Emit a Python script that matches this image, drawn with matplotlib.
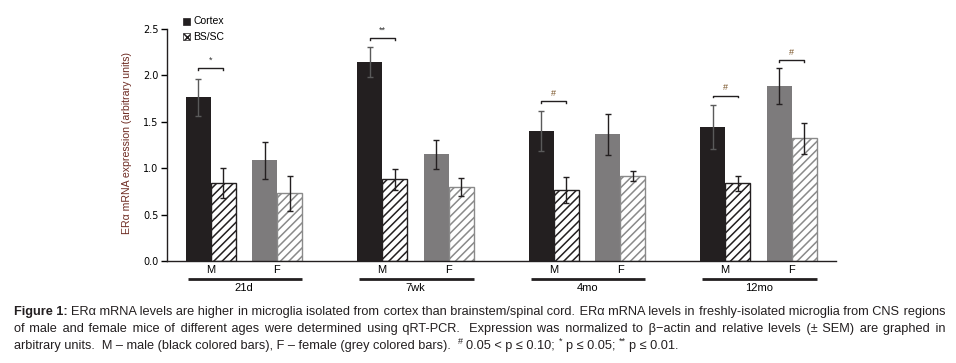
import numpy as np
import matplotlib
matplotlib.use('Agg')
import matplotlib.pyplot as plt
from matplotlib.patches import Rectangle
from matplotlib.transforms import blended_transform_factory
from matplotlib import font_manager
from matplotlib.ft2font import FT2Font

# data
groups = ['21d', '7wk', '4mo', '12mo']
sexes = ['M', 'F']
cortex_m = [1.76, 2.14, 1.40, 1.44]
cortex_m_err = [0.20, 0.165, 0.215, 0.24]
bssc_m = [0.84, 0.88, 0.76, 0.835]
bssc_m_err = [0.165, 0.115, 0.14, 0.08]
cortex_f = [1.085, 1.15, 1.365, 1.885]
cortex_f_err = [0.20, 0.155, 0.22, 0.19]
bssc_f = [0.73, 0.80, 0.91, 1.32]
bssc_f_err = [0.19, 0.097, 0.054, 0.17]

# significance marks: (group index, sex, bracket height, label)
sig_marks = [(0, 'M', 2.08, '*'), (1, 'M', 2.395, '**'), (2, 'M', 1.72, '#'),
             (3, 'M', 1.78, '#'), (3, 'F', 2.16, '#')]

cap_bold = "Figure 1:"
cap_line1 = ("ERα mRNA levels are higher in microglia isolated from cortex than brainstem/spinal cord. "
             "ERα mRNA levels in freshly-isolated microglia from CNS regions")
cap_line2 = ("of male and female mice of different ages were determined using qRT-PCR.  Expression was "
             "normalized to β−actin and relative levels (± SEM) are graphed in")
# (text, superscript?)
cap_line3 = [("arbitrary units.  M – male (black colored bars), F – female (grey colored bars).  ", False),
             ("#", True), (" 0.05 < p ≤ 0.10; ", False), ("*", True), (" p ≤ 0.05; ", False),
             ("**", True), (" p ≤ 0.01.", False)]

W, H = 956, 363
fig = plt.figure(figsize=(W / 100, H / 100), dpi=100)
fx = lambda px: px / W
fy = lambda py: 1 - py / H

ax = fig.add_axes([fx(167), fy(261), (836 - 167) / W, (261 - 28.7) / H])

DARK = '#231f20'
GREY = '#7d7b7c'
plt.rcParams['hatch.linewidth'] = 1.1

gap = 6.86
base = np.arange(len(groups)) * gap
pos_cm, pos_bm, pos_cf, pos_bf = base, base + 1, base + 2.66, base + 3.66

ax.bar(pos_cm, cortex_m, width=1.0, color=DARK, zorder=2)
ax.bar(pos_bm, bssc_m, width=1.0, color='white', edgecolor=DARK, hatch='////', linewidth=1.0, zorder=2)
ax.bar(pos_cf, cortex_f, width=1.0, color=GREY, zorder=2)
ax.bar(pos_bf, bssc_f, width=1.0, color='white', edgecolor='#8a8a8a', hatch='////', linewidth=1.0, zorder=2)

ekw = dict(fmt='none', capsize=2.5, elinewidth=1.0, capthick=1.0, zorder=3)
ax.errorbar(pos_cm, cortex_m, yerr=cortex_m_err, ecolor='#5a5a5a', **ekw)
ax.errorbar(pos_bm, bssc_m, yerr=bssc_m_err, ecolor=DARK, **ekw)
ax.errorbar(pos_cf, cortex_f, yerr=cortex_f_err, ecolor=DARK, **ekw)
ax.errorbar(pos_bf, bssc_f, yerr=bssc_f_err, ecolor=DARK, **ekw)

# significance brackets
for g, s, h, lab in sig_marks:
    x0 = base[g] + (0 if s == 'M' else 2.66)
    x1 = x0 + 1
    ax.plot([x0, x0, x1, x1], [h - 0.02, h, h, h - 0.02], color=DARK, lw=1.0, zorder=3)
    col = '#7a5428' if lab == '#' else '#333333'
    ax.text((x0 + x1) / 2, h + 0.035, lab, ha='center', va='bottom', fontsize=6.5, color=col,
            family='Liberation Sans')

ax.set_xlim(-1.24, 25.52)
ax.set_ylim(0, 2.5)
ax.set_yticks(np.arange(0, 2.51, 0.5))
ax.set_yticklabels([f'{v:.1f}' for v in np.arange(0, 2.51, 0.5)], family='DejaVu Sans', fontsize=7)
ax.tick_params(axis='y', length=4, width=1, pad=2, direction='out')
ax.tick_params(axis='x', length=0)
for sp in ['top', 'right']:
    ax.spines[sp].set_visible(False)
for sp in ['left', 'bottom']:
    ax.spines[sp].set_linewidth(1.0)
    ax.spines[sp].set_color(DARK)

# M / F labels, group underline and group names
ax.set_xticks(np.concatenate([base + 0.5, base + 3.16]))
ax.set_xticklabels(['M'] * len(groups) + ['F'] * len(groups), family='Liberation Sans', fontsize=8)
ax.tick_params(axis='x', pad=3)
tr = blended_transform_factory(ax.transData, ax.transAxes)
for i, g in enumerate(groups):
    ax.plot([base[i] - 0.42, base[i] + 4.16], [-0.077, -0.077], transform=tr, color=DARK, lw=2.0,
            clip_on=False, solid_capstyle='butt')
    ax.text(base[i] + 1.85, -0.117, g, transform=tr, ha='center', va='center', fontsize=8,
            family='Liberation Sans')

ax.set_ylabel('ERα mRNA expression (arbitrary units)', fontsize=7.6, color='#6e2b22', family='Liberation Sans')
ax.yaxis.set_label_coords((132 - 167) / (836 - 167), 0.51)

# legend drawn by hand
fig.patches.append(Rectangle((fx(183), fy(24.5)), 7 / W, 7 / H, transform=fig.transFigure,
                             facecolor=DARK, edgecolor=DARK, lw=0.5))
fig.patches.append(Rectangle((fx(183), fy(39.5)), 7 / W, 7 / H, transform=fig.transFigure,
                             facecolor='white', edgecolor=DARK, hatch='xxxx', lw=0.5))
fig.text(fx(193), fy(21.5), 'Cortex', fontsize=7.5, va='center', family='Liberation Sans')
fig.text(fx(193), fy(37), 'BS/SC', fontsize=7.5, va='center', family='Liberation Sans')

# caption: whole lines, justified by padding the word gaps with narrow spaces
renderer = fig.canvas.get_renderer()
CAP_FS = 9.2
ck = dict(family='Liberation Sans', fontsize=CAP_FS, color='#231f20', va='baseline', ha='left')

ft = FT2Font(font_manager.findfont(font_manager.FontProperties(family='Liberation Sans')))
pad_char = ' '
for cp in (0x200A, 0x2009):
    if ft.get_char_index(cp):
        pad_char = chr(cp)
        break


def measure(s, **kw):
    t = fig.text(0, 0, s, **{**ck, **kw})
    w = t.get_window_extent(renderer).width
    t.remove()
    return w


space_w = measure('a a') - measure('aa')
pad_w = (measure('a' + pad_char * 10 + 'a') - measure('aa')) / 10


def justify(s, target):
    gaps = [k for k, c in enumerate(s) if c == ' ' and (k == 0 or s[k - 1] != ' ')]
    n = max(int(round((target - measure(s)) / pad_w)), 0)
    out, last = [], 0
    for j, k in enumerate(gaps):
        cnt = (n * (j + 1)) // len(gaps) - (n * j) // len(gaps)
        out.append(s[last:k + 1] + pad_char * cnt)
        last = k + 1
    out.append(s[last:])
    return ''.join(out)


L, R = 14, 946
baselines = [315.5, 332, 348.5]

fig.text(fx(L), fy(baselines[0]), cap_bold, fontweight='bold', **ck)
x_start = L + measure(cap_bold + ' E', fontweight='bold') - measure('E', fontweight='bold')
fig.text(fx(x_start), fy(baselines[0]), justify(cap_line1, R - x_start), **ck)
fig.text(fx(L), fy(baselines[1]), justify(cap_line2, R - L), **ck)

# line 3 with superscript marks
x = L
for seg, sup in cap_line3:
    if sup:
        fs = CAP_FS * 0.7
        fig.text(fx(x), fy(baselines[2] - CAP_FS * 100 / 72 * 0.38), seg, **{**ck, 'fontsize': fs})
        x += measure(seg, fontsize=fs)
    else:
        lead = len(seg) - len(seg.lstrip(' '))
        trail = len(seg) - len(seg.rstrip(' '))
        x += lead * space_w
        core = seg.strip(' ')
        fig.text(fx(x), fy(baselines[2]), core, **ck)
        x += measure(core) + trail * space_w

fig.savefig('out.png', dpi=100, facecolor='white')
